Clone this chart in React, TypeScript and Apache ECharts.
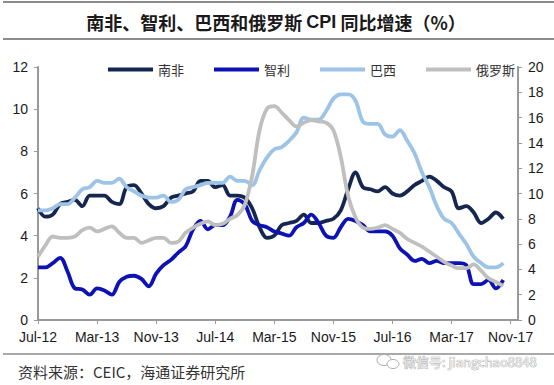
import React, { useEffect, useRef } from "react";
import * as echarts from "echarts";

// Months Jul-12 .. Dec-17 (axis runs slightly past the last data point)
const MONTH_NAMES = ["Jan", "Feb", "Mar", "Apr", "May", "Jun", "Jul", "Aug", "Sep", "Oct", "Nov", "Dec"];
const START_YEAR = 2012;
const START_MONTH = 6; // Jul
const MONTH_COUNT = 66;
const categories: string[] = Array.from({ length: MONTH_COUNT }, (_, k) => {
  const m = START_MONTH + k;
  const y = START_YEAR + Math.floor(m / 12);
  return `${MONTH_NAMES[m % 12]}-${String(y).slice(2)}`;
});

const southAfrica = [
  5.3, 4.9, 5.0, 5.5, 5.6, 5.7,
  5.4, 5.9, 5.9, 5.9, 5.6, 5.5, 6.3, 6.4, 6.0, 5.5, 5.3, 5.4,
  5.8, 5.9, 6.0, 6.1, 6.6, 6.6, 6.3, 6.4, 5.9, 5.9, 5.8, 5.3,
  4.4, 3.9, 4.0, 4.5, 4.6, 4.7, 5.0, 4.6, 4.6, 4.7, 4.8, 5.2,
  6.2, 7.0, 6.3, 6.2, 6.1, 6.3, 6.0, 5.9, 6.1, 6.4, 6.6, 6.8,
  6.6, 6.3, 6.1, 5.3, 5.4, 5.1, 4.6, 4.8, 5.1, 4.8,
];
const chile = [
  2.5, 2.5, 2.7, 2.95, 2.3, 1.5,
  1.45, 1.2, 1.5, 1.4, 1.2, 1.8, 2.05, 2.1, 1.95, 1.6, 2.2, 2.6,
  2.85, 3.2, 3.5, 4.3, 4.7, 4.3, 4.5, 4.5, 4.9, 5.7, 5.5, 4.7,
  4.5, 4.4, 4.2, 4.1, 4.0, 4.4, 4.6, 5.0, 4.6, 4.0, 3.9, 4.4,
  4.8, 4.7, 4.5, 4.2, 4.2, 4.2, 4.0, 3.4, 3.1, 2.8, 2.9, 2.7,
  2.8, 2.7, 2.7, 2.7, 2.6, 1.7, 1.7, 1.9, 1.5, 1.9,
];
const brazil = [
  5.2, 5.2, 5.3, 5.5, 5.5, 5.8,
  6.2, 6.3, 6.6, 6.5, 6.5, 6.7, 6.3, 6.1, 5.9, 5.8, 5.8, 5.9,
  5.6, 5.7, 6.2, 6.3, 6.4, 6.5, 6.5, 6.5, 6.8, 6.6, 6.6, 6.4,
  7.1, 7.7, 8.1, 8.2, 8.5, 8.9, 9.6, 9.5, 9.5, 9.9, 10.5, 10.7,
  10.7, 10.4, 9.4, 9.3, 9.3, 8.8, 8.7, 9.0, 8.5, 7.9, 7.0, 6.3,
  5.4, 4.8, 4.6, 4.1, 3.6, 3.0, 2.7, 2.5, 2.5, 2.7,
];
const russia = [
  5.0, 5.9, 6.6, 6.5, 6.5, 6.6,
  7.1, 7.3, 7.0, 7.2, 7.4, 6.9, 6.5, 6.5, 6.1, 6.3, 6.5, 6.5,
  6.1, 6.2, 6.9, 7.3, 7.6, 7.8, 7.5, 7.6, 8.0, 8.3, 9.1, 11.4,
  15.0, 16.7, 16.9, 16.4, 15.8, 15.3, 15.6, 15.8, 15.7, 15.6, 15.0, 12.9,
  9.8, 8.1, 7.3, 7.2, 7.3, 7.5, 7.2, 6.9, 6.4, 6.1, 5.8, 5.4,
  5.0, 4.6, 4.3, 4.1, 4.1, 4.4, 3.9, 3.3, 3.0, 2.7,
];

const seriesNames = ["南非", "智利", "巴西", "俄罗斯"];
const seriesColors = ["#15264f", "#0d12b5", "#9dc3e6", "#bfbfbf"];
const titleA = "南非、智利、巴西和俄罗斯 ";
const titleB = "CPI";
const titleC = " 同比增速（%）";
const source = "资料来源：CEIC，海通证券研究所";
const watermark = "微信号: jiangchao8848";

const CJK = '"Noto Sans CJK SC", "Noto Sans", sans-serif';
const LATIN = '"Liberation Sans", Arial, sans-serif';

export default function App() {
  const ref = useRef<HTMLDivElement>(null);
  useEffect(() => {
    document.body.style.margin = "0";
    if (!ref.current) return;
    const chart = echarts.init(ref.current, undefined, { renderer: "svg" });
    const dataSets = [southAfrica, chile, brazil, russia];
    const yIdx = [0, 0, 0, 1];
    chart.setOption({
      animation: false,
      backgroundColor: "#ffffff",
      grid: { left: 38, right: 36, top: 67, bottom: 65, containLabel: false },
      legend: {
        data: seriesNames,
        left: 108,
        top: 63,
        icon: "rect",
        itemWidth: 45,
        itemHeight: 4,
        itemGap: 30,
        padding: 0,
        textStyle: { fontSize: 13, color: "#333", fontFamily: CJK },
      },
      xAxis: {
        type: "category",
        data: categories,
        boundaryGap: false,
        axisLine: { lineStyle: { color: "#999", width: 2 } },
        axisTick: { interval: 7, length: 4, lineStyle: { color: "#999", width: 1 } },
        axisLabel: { interval: 7, fontSize: 14, color: "#1a1a1a", fontFamily: LATIN, margin: 10 },
        splitLine: { show: false },
      },
      yAxis: [
        {
          type: "value",
          min: 0,
          max: 12,
          interval: 2,
          axisLine: { show: true, lineStyle: { color: "#999", width: 2 } },
          axisTick: { show: true, length: 4, lineStyle: { color: "#999" } },
          axisLabel: { fontSize: 14, color: "#1a1a1a", fontFamily: LATIN, margin: 10 },
          splitLine: { show: false },
        },
        {
          type: "value",
          min: 0,
          max: 20,
          interval: 2,
          position: "right",
          axisLine: { show: true, lineStyle: { color: "#999", width: 2 } },
          axisTick: { show: true, length: 4, lineStyle: { color: "#999" } },
          axisLabel: { fontSize: 14, color: "#1a1a1a", fontFamily: LATIN, margin: 10 },
          splitLine: { show: false },
        },
      ],
      series: seriesNames.map((name, i) => ({
        name,
        type: "line",
        yAxisIndex: yIdx[i],
        data: dataSets[i],
        smooth: 0.35,
        showSymbol: false,
        symbol: "none",
        color: seriesColors[i],
        lineStyle: { color: seriesColors[i], width: 3.8 },
      })),
      graphic: [
        { type: "line", shape: { x1: 3, y1: 2, x2: 554, y2: 2 }, style: { stroke: "#8c8c8c", lineWidth: 2 } },
        { type: "line", shape: { x1: 3, y1: 39, x2: 554, y2: 39 }, style: { stroke: "#8c8c8c", lineWidth: 2 } },
        { type: "line", shape: { x1: 3, y1: 354, x2: 554, y2: 354 }, style: { stroke: "#8c8c8c", lineWidth: 1.5 } },
        {
          type: "text",
          x: 276,
          y: 22,
          style: {
            text: `{a|${titleA}}{b|${titleB}}{a|${titleC}}`,
            rich: {
              a: { fontSize: 18, fontWeight: "bold", fontFamily: CJK, fill: "#1a1a1a", color: "#1a1a1a" },
              b: { fontSize: 18, fontWeight: "bold", fontFamily: LATIN, fill: "#1a1a1a", color: "#1a1a1a" },
            },
            textAlign: "center",
            textVerticalAlign: "middle",
          },
        },
        {
          type: "text",
          x: 18,
          y: 371,
          style: {
            text: source,
            fontSize: 15,
            fontFamily: CJK,
            fill: "#333",
            textAlign: "left",
            textVerticalAlign: "middle",
          },
        },
        { type: "ellipse", shape: { cx: 384, cy: 360, rx: 7, ry: 5.5 }, style: { fill: "#fff", stroke: "#aaa", lineWidth: 1 } },
        { type: "ellipse", shape: { cx: 393, cy: 364, rx: 6, ry: 4.5 }, style: { fill: "#fff", stroke: "#aaa", lineWidth: 1 } },
        {
          type: "text",
          x: 403,
          y: 361,
          style: {
            text: watermark,
            fontSize: 13,
            fontFamily: CJK,
            fill: "#ececec",
            stroke: "#a0a0a0",
            lineWidth: 0.7,
            textAlign: "left",
            textVerticalAlign: "middle",
          },
        },
      ],
    });
    return () => chart.dispose();
  }, []);
  return <div ref={ref} style={{ width: 554, height: 385 }} />;
}
